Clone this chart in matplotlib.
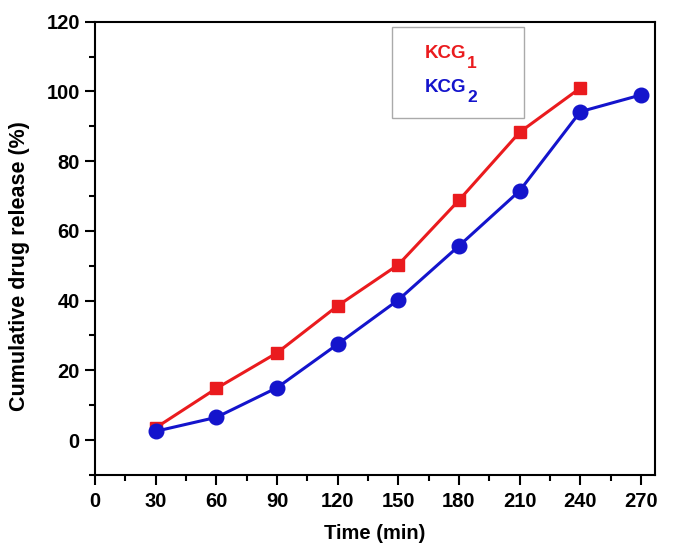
import matplotlib
matplotlib.use("Agg")
import matplotlib.pyplot as plt
from matplotlib.ticker import MultipleLocator
from matplotlib.patches import Rectangle

plt.rcParams['font.family'] = ['Liberation Sans', 'DejaVu Sans']
plt.rcParams['font.weight'] = 'bold'

time_kcg1 = [30, 60, 90, 120, 150, 180, 210, 240]
release_kcg1 = [3.5, 14.8, 25.0, 38.5, 50.3, 68.8, 88.3, 101.0]
time_kcg2 = [30, 60, 90, 120, 150, 180, 210, 240, 270]
release_kcg2 = [2.5, 6.5, 15.0, 27.5, 40.2, 55.7, 71.5, 94.2, 99.0]
x_ticks = [0, 30, 60, 90, 120, 150, 180, 210, 240, 270]
y_ticks = [0, 20, 40, 60, 80, 100, 120]

fig = plt.figure(figsize=(6.74, 5.58), dpi=100)
ax = fig.add_axes([0.141, 0.149, 0.831, 0.812])

ax.plot(time_kcg1, release_kcg1, color='#ea1b1e', lw=2.2, marker='s', ms=9, zorder=3)
ax.plot(time_kcg2, release_kcg2, color='#1414cc', lw=2.2, marker='o', ms=10.5, zorder=4)

ax.set_xlim(0, 277)
ax.set_ylim(-10, 120)
ax.set_xticks(x_ticks)
ax.set_yticks(y_ticks)
ax.xaxis.set_minor_locator(MultipleLocator(15))
ax.yaxis.set_minor_locator(MultipleLocator(10))
ax.tick_params(which='major', direction='out', length=7.5, width=1.5, labelsize=14.5)
ax.tick_params(which='minor', direction='out', length=4, width=1.5)
ax.tick_params(axis='x', which='major', pad=5)
for lab in ax.get_xticklabels() + ax.get_yticklabels():
    lab.set_fontweight('bold')
for s in ax.spines.values():
    s.set_linewidth(1.5)

ax.set_xlabel('Time (min)', fontsize=14.5, fontweight='bold', labelpad=9)
ax.set_ylabel('Cumulative drug release (%)', fontsize=15.5, fontweight='bold')
ax.yaxis.set_label_coords(-0.117, 0.46)

# legend box
box = Rectangle((392/674, 1-118/558), (524-392)/674, (118-27)/558, transform=fig.transFigure,
                facecolor='white', edgecolor='#aaaaaa', lw=1, zorder=5)
fig.patches.append(box)
t1 = fig.text(425/674, 1-58/558, 'KCG', color='#ea1b1e', fontsize=13.5, fontweight='bold',
              ha='left', va='baseline', zorder=6)
fig.add_artist(matplotlib.text.Annotation('1', xy=(1, 0), xycoords=t1, xytext=(0.3, -4.3),
               textcoords='offset points', color='#ea1b1e', fontsize=12.5, fontweight='bold',
               ha='left', va='baseline', zorder=6))
t2 = fig.text(425/674, 1-92/558, 'KCG', color='#1414cc', fontsize=13.5, fontweight='bold',
              ha='left', va='baseline', zorder=6)
fig.add_artist(matplotlib.text.Annotation('2', xy=(1, 0), xycoords=t2, xytext=(0.3, -4.3),
               textcoords='offset points', color='#1414cc', fontsize=12.5, fontweight='bold',
               ha='left', va='baseline', zorder=6))

fig.savefig('out.png', dpi=100)
